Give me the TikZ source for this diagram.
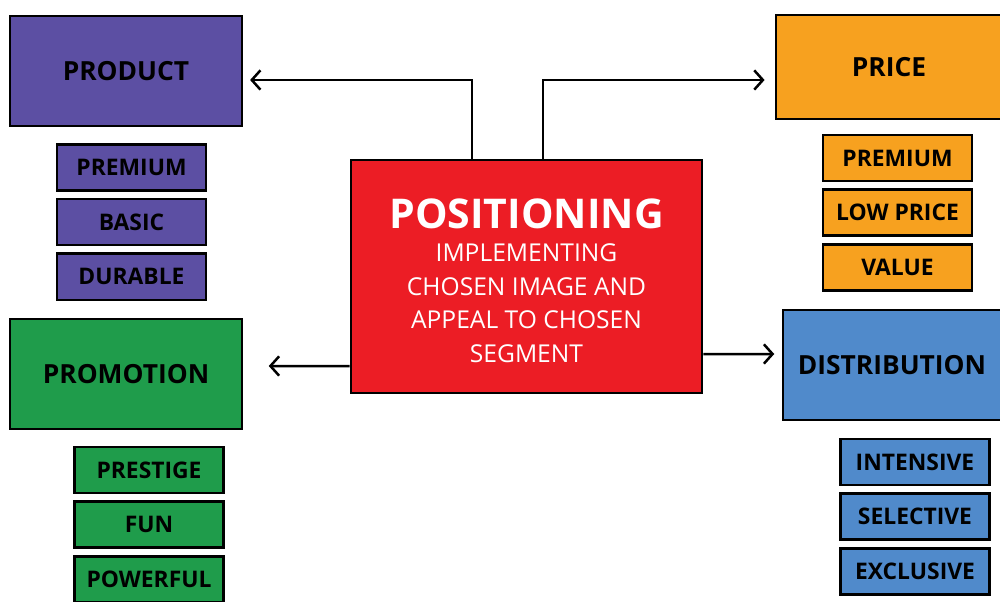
\documentclass[tikz,border=0pt]{standalone}
\usepackage{fontspec}
\setmainfont{Open Sans}
\usetikzlibrary{positioning, arrows.meta}
\definecolor{prodcol}{HTML}{5C4FA3}
\definecolor{pricecol}{HTML}{F7A11F}
\definecolor{promocol}{HTML}{1F9C4B}
\definecolor{distcol}{HTML}{508ACB}
\definecolor{poscol}{HTML}{EC1D25}
\tikzset{
x=0.3mm, y=-0.3mm, % one unit is one pixel of the layout
node distance=1.8mm, % gap between the small boxes
mainbox/.style={draw, line width=0.85mm, minimum width=69.6mm, minimum height=33mm, font=\bfseries\fontsize{22.5}{26}\selectfont},
subbox/.style={draw, line width=0.8mm, minimum width=44.7mm, minimum height=13.8mm, font=\bfseries\fontsize{19.5}{22}\selectfont},
posbox/.style={draw, line width=0.85mm, fill=poscol, text=white, minimum width=105.3mm, minimum height=69.9mm, align=center, font=\fontsize{21}{28.6}\selectfont},
link/.style={-{Straight Barb[length=2.6mm,width=5.8mm]}, line width=0.75mm},
}
\begin{document}
\begin{tikzpicture}
\useasboundingbox (0,0) rectangle (1000,602);
% centre
\node[posbox] (pos) at (526.5,276.5) {\rule{0pt}{11.4mm}{\bfseries\fontsize{35}{38}\selectfont POSITIONING}\\[-0.2mm] IMPLEMENTING\\ CHOSEN IMAGE AND\\ APPEAL TO CHOSEN\\ SEGMENT};
% the four main boxes
\node[mainbox, fill=prodcol] (product) at (126,71) {PRODUCT};
\node[mainbox, fill=pricecol, minimum width=67.8mm, minimum height=31.2mm] (price) at (889,67) {PRICE};
\node[mainbox, fill=promocol] (promotion) at (126,374) {PROMOTION};
\node[mainbox, fill=distcol, minimum width=65.4mm] (distribution) at (892,365) {DISTRIBUTION};
% product
\node[subbox, fill=prodcol] (premium) at (131.5,167.5) {PREMIUM};
\node[subbox, fill=prodcol, below=of premium] (basic) {BASIC};
\node[subbox, fill=prodcol, below=of basic] (durable) {DURABLE};
% price
\node[subbox, fill=pricecol] (premiumprice) at (897.5,158) {PREMIUM};
\node[subbox, fill=pricecol, below=of premiumprice] (lowprice) {LOW PRICE};
\node[subbox, fill=pricecol, below=of lowprice] (value) {VALUE};
% promotion
\node[subbox, fill=promocol] (prestige) at (149,470) {PRESTIGE};
\node[subbox, fill=promocol, below=of prestige] (fun) {FUN};
\node[subbox, fill=promocol, below=of fun] (powerful) {POWERFUL};
% distribution
\node[subbox, fill=distcol] (intensive) at (915,462) {INTENSIVE};
\node[subbox, fill=distcol, below=of intensive] (selective) {SELECTIVE};
\node[subbox, fill=distcol, below=of selective] (exclusive) {EXCLUSIVE};
% arrows
\draw[link, shorten >=2mm] ([xshift=-16.35mm]pos.north) |- ([yshift=-2.7mm]product.east);
\draw[link, shorten >=3mm] ([xshift=4.95mm]pos.north) |- ([yshift=-3.9mm]price.west);
\draw[link, shorten >=7.6mm] ([yshift=-26.85mm]pos.west) -- ([yshift=2.4mm]promotion.east);
\draw[link, shorten >=2.2mm] ([yshift=-23.25mm]pos.east) -- ([yshift=3.3mm]distribution.west);
\end{tikzpicture}
\end{document}
